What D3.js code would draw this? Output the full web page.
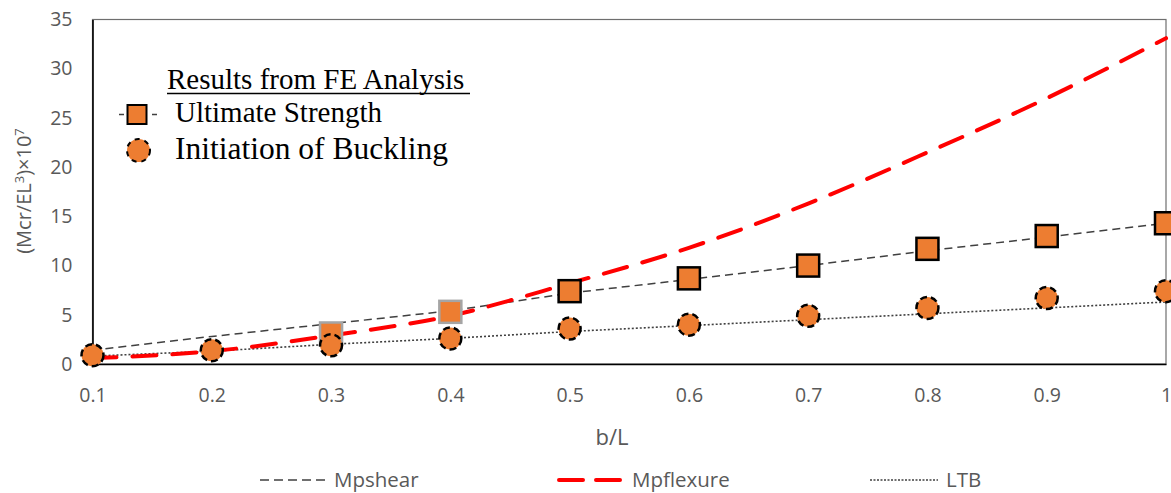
<!DOCTYPE html>
<html><head><meta charset="utf-8">
<script src="https://cdn.jsdelivr.net/npm/d3@7"></script>
<style>
html,body{margin:0;padding:0;background:#fff;}
svg{display:block;}
</style></head>
<body>
<svg id="chart" width="1171" height="493"></svg>
<script>
// ---- data ----
const bL = [0.1, 0.2, 0.3, 0.4, 0.5, 0.6, 0.7, 0.8, 0.9, 1.0];
const mpShear = [1.4, 2.8, 4.1, 5.4, 7.2, 8.6, 10.0, 11.5, 12.9, 14.3];
const mpFlexure = [0.6, 1.3, 2.9, 4.9, 8.2, 11.8, 16.3, 21.5, 27.0, 33.1];
const ltb = [0.8, 1.3, 2.0, 2.6, 3.3, 3.9, 4.5, 5.1, 5.7, 6.3];
const bucklingInit = [0.9, 1.4, 1.9, 2.6, 3.6, 4.0, 4.9, 5.7, 6.7, 7.4];
const ultimateX = [0.3, 0.4, 0.5, 0.6, 0.7, 0.8, 0.9, 1.0];
const ultimateY = [3.1, 5.3, 7.4, 8.7, 10.0, 11.7, 13.0, 14.3];
const ultimateEdge = ["grey", "grey", "black", "black", "black", "black", "black", "black"];
const xTicks = [0.1, 0.2, 0.3, 0.4, 0.5, 0.6, 0.7, 0.8, 0.9, 1.0];
const xTickLabels = ["0.1", "0.2", "0.3", "0.4", "0.5", "0.6", "0.7", "0.8", "0.9", "1"];
const yTicks = [0, 5, 10, 15, 20, 25, 30, 35];
const legendLines = ["Mpshear", "Mpflexure", "LTB"];
const feTitle = "Results from FE Analysis";
const feNames = ["Ultimate Strength", "Initiation of Buckling"];

// ---- layout ----
const svg = d3.select("#chart");
const L = 92.5, R = 1166, T = 19.5, B = 364;
const x = d3.scaleLinear().domain([0.1, 1.0]).range([L, R]);
const y = d3.scaleLinear().domain([0, 35]).range([B, T]);
const ORANGE = "#ED7D31";
const GREY_TXT = "#595959";
const sansFont = "'Open Sans', 'Noto Sans', sans-serif";
const serifFont = "'Liberation Serif', 'Times New Roman', serif";

// plot frame
svg.append("rect").attr("x", L).attr("y", T).attr("width", R - L).attr("height", B - T)
  .attr("fill", "none").attr("stroke", "#6e6e6e").attr("stroke-width", 1.2);

// axes
const xAxis = d3.axisBottom(x).tickValues(xTicks).tickFormat((d, i) => xTickLabels[i]).tickSize(0).tickPadding(24);
const gx = svg.append("g").attr("transform", `translate(0,${B})`).call(xAxis);
gx.select(".domain").attr("stroke", "#000").attr("stroke-width", 1.6);
gx.selectAll("text").attr("fill", GREY_TXT).style("font-family", sansFont).style("font-size", "19.5px");

const yAxis = d3.axisLeft(y).tickValues(yTicks).tickSize(0).tickPadding(20);
const gy = svg.append("g").attr("transform", `translate(${L},0)`).call(yAxis);
gy.select(".domain").attr("stroke", "#000").attr("stroke-width", 1.6);
gy.selectAll("text").attr("fill", GREY_TXT).style("font-family", sansFont).style("font-size", "19.5px");

// axis titles
svg.append("text").attr("x", 612).attr("y", 445).attr("text-anchor", "middle")
  .attr("fill", GREY_TXT).style("font-family", sansFont).style("font-size", "22px").text("b/L");

const yt = svg.append("text").attr("transform", "translate(31,191) rotate(-90)")
  .attr("text-anchor", "middle").attr("fill", GREY_TXT)
  .style("font-family", sansFont).style("font-size", "20px");
yt.append("tspan").text("(Mcr/EL");
yt.append("tspan").attr("dy", -7).style("font-size", "13px").text("3");
yt.append("tspan").attr("dy", 7).text(")×10");
yt.append("tspan").attr("dy", -7).style("font-size", "13px").text("7");

// lines
const lineGen = d3.line().x((d, i) => x(bL[i])).y(d => y(d));
const smoothGen = d3.line().x((d, i) => x(bL[i])).y(d => y(d)).curve(d3.curveMonotoneX);

svg.append("path").datum(mpShear).attr("d", lineGen).attr("fill", "none")
  .attr("stroke", "#404040").attr("stroke-width", 1.5).attr("stroke-dasharray", "8,5");
svg.append("path").datum(ltb).attr("d", lineGen).attr("fill", "none")
  .attr("stroke", "#404040").attr("stroke-width", 1.6).attr("stroke-dasharray", "2,2");
svg.append("path").datum(mpFlexure).attr("d", smoothGen).attr("fill", "none")
  .attr("stroke", "#FF0000").attr("stroke-width", 4).attr("stroke-linecap", "round")
  .attr("stroke-dasharray", "24,16");

// markers: squares (ultimate strength)
const S = 22;
svg.append("g").selectAll("rect").data(ultimateY).join("rect")
  .attr("x", (d, i) => x(ultimateX[i]) - S / 2).attr("y", d => y(d) - S / 2)
  .attr("width", S).attr("height", S).attr("fill", ORANGE)
  .attr("stroke", (d, i) => ultimateEdge[i] === "grey" ? "#A5A5A5" : "#000")
  .attr("stroke-width", 2.5);

// markers: circles (initiation of buckling)
svg.append("g").selectAll("circle").data(bucklingInit).join("circle")
  .attr("cx", (d, i) => x(bL[i])).attr("cy", d => y(d)).attr("r", 11)
  .attr("fill", ORANGE).attr("stroke", "#000").attr("stroke-width", 2.5)
  .attr("stroke-dasharray", "7,4");

// inner legend (FE results)
svg.append("text").attr("x", 167).attr("y", 89).attr("fill", "#000")
  .style("font-family", serifFont).style("font-size", "29px").text(feTitle);
svg.append("line").attr("x1", 167).attr("x2", 470).attr("y1", 93.5).attr("y2", 93.5)
  .attr("stroke", "#000").attr("stroke-width", 1.5);

// legend square with dash stubs
svg.append("line").attr("x1", 119).attr("x2", 160).attr("y1", 114.5).attr("y2", 114.5)
  .attr("stroke", "#404040").attr("stroke-width", 1.5).attr("stroke-dasharray", "5,28");
svg.append("rect").attr("x", 127.5).attr("y", 105).attr("width", 19).attr("height", 19)
  .attr("fill", ORANGE).attr("stroke", "#000").attr("stroke-width", 2);
svg.append("text").attr("x", 175).attr("y", 122).attr("fill", "#000")
  .style("font-family", serifFont).style("font-size", "29px").text(feNames[0]);

svg.append("circle").attr("cx", 138.5).attr("cy", 150.5).attr("r", 11.5)
  .attr("fill", ORANGE).attr("stroke", "#000").attr("stroke-width", 2).attr("stroke-dasharray", "5,5");
svg.append("text").attr("x", 175).attr("y", 159).attr("fill", "#000")
  .style("font-family", serifFont).style("font-size", "31.5px").text(feNames[1]);

// bottom legend
const legY = 480;
const legItems = [
  {x1: 260, x2: 326, tx: 334, stroke: "#404040", w: 1.5, dash: "9,5", cap: "butt"},
  {x1: 559, x2: 624, tx: 632, stroke: "#FF0000", w: 4, dash: "24,13", cap: "round"},
  {x1: 870, x2: 938, tx: 946, stroke: "#404040", w: 1.5, dash: "2,1.5", cap: "butt"}
];
legItems.forEach((it, i) => {
  svg.append("line").attr("x1", it.x1).attr("x2", it.x2).attr("y1", legY).attr("y2", legY)
    .attr("stroke", it.stroke).attr("stroke-width", it.w).attr("stroke-dasharray", it.dash)
    .attr("stroke-linecap", it.cap);
  svg.append("text").attr("x", it.tx).attr("y", legY + 7).attr("fill", GREY_TXT)
    .style("font-family", sansFont).style("font-size", "20.5px").text(legendLines[i]);
});
</script>
</body></html>
